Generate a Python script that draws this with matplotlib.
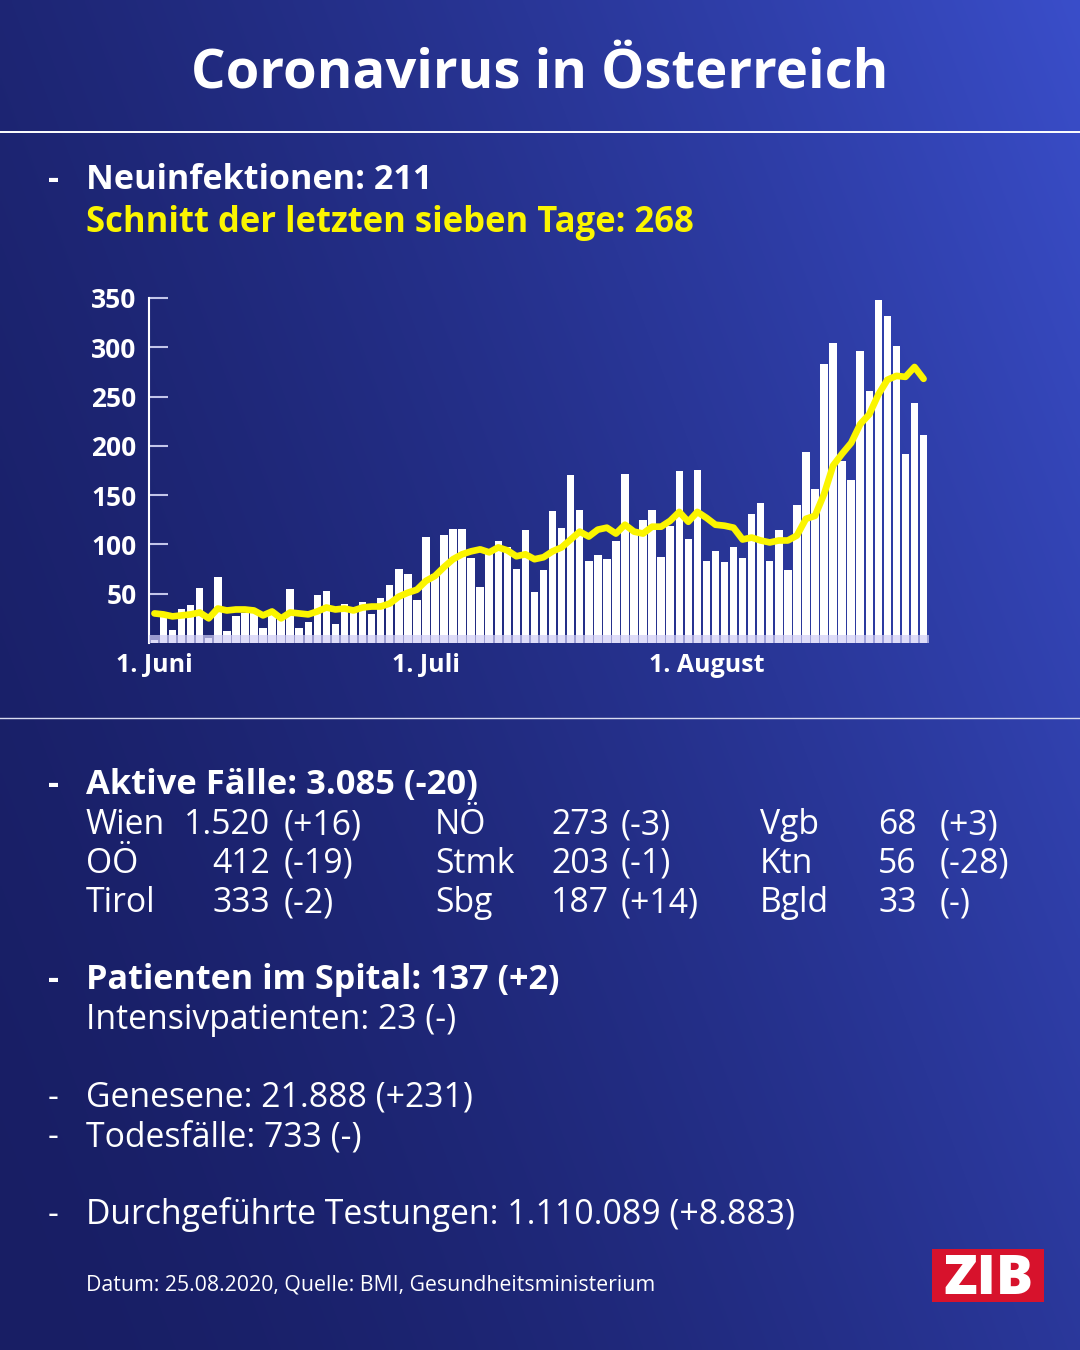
import numpy as np
import matplotlib
matplotlib.use('Agg')
import matplotlib.pyplot as plt
from matplotlib.patches import Rectangle

W, H = 1080, 1350
FONT = 'Open Sans'
plt.rcParams['font.family'] = [FONT, 'DejaVu Sans']

# ---------------- data ----------------
# daily new infections, 1 June .. 25 August 2020
cases = [3, 29, 13, 35, 39, 56, 5, 67, 12, 27,
         30, 31, 15, 30, 27, 55, 15, 21, 49, 53,
         19, 40, 30, 42, 29, 46, 59, 75, 70, 44,
         108, 70, 110, 116, 116, 86, 57, 90, 103, 97,
         75, 115, 52, 74, 134, 117, 170, 135, 83, 89,
         85, 103, 171, 116, 125, 135, 87, 119, 174, 106,
         176, 83, 93, 82, 97, 86, 131, 142, 83, 115,
         74, 140, 194, 156, 283, 304, 185, 165, 296, 256,
         348, 332, 301, 192, 243, 211]
# seven-day average (yellow line)
avg7 = [30, 29, 27, 28, 29, 31, 25, 35, 33, 34,
        34, 33, 28, 32, 25, 31, 30, 29, 32, 36,
        34, 35, 33, 36, 37, 37, 40, 47, 51, 54,
        63, 68, 77, 85, 90, 93, 95, 92, 97, 94,
        88, 90, 85, 87, 93, 97, 105, 113, 108, 115,
        117, 111, 120, 113, 111, 118, 118, 124, 133, 123,
        133, 127, 120, 119, 117, 105, 107, 104, 102, 104,
        104, 109, 126, 129, 151, 180, 192, 203, 222, 232,
        252, 267, 271, 270, 280, 268]
days = list(range(len(cases)))
ytick_vals = [50, 100, 150, 200, 250, 300, 350]
xtick_days = [0, 30, 61]
xtick_labels = ['1. Juni', '1. Juli', '1. August']

title = 'Coronavirus in Österreich'
head1 = 'Neuinfektionen: 211'
head2 = 'Schnitt der letzten sieben Tage: 268'
active = 'Aktive Fälle: 3.085 (-20)'
regions = [['Wien', 'NÖ', 'Vgb'], ['OÖ', 'Stmk', 'Ktn'], ['Tirol', 'Sbg', 'Bgld']]
reg_vals = [['1.520', '273', '68'], ['412', '203', '56'], ['333', '187', '33']]
reg_chg = [['(+16)', '(-3)', '(+3)'], ['(-19)', '(-1)', '(-28)'], ['(-2)', '(+14)', '(-)']]
spital = 'Patienten im Spital: 137 (+2)'
intensiv = 'Intensivpatienten: 23 (-)'
genesene = 'Genesene: 21.888 (+231)'
tode = 'Todesfälle: 733 (-)'
tests = 'Durchgeführte Testungen: 1.110.089 (+8.883)'
footer = 'Datum: 25.08.2020, Quelle: BMI, Gesundheitsministerium'

# ---------------- figure & background ----------------
fig = plt.figure(figsize=(W / 100, H / 100), dpi=100)
bg = fig.add_axes([0, 0, 1, 1])
bg.set_xlim(0, W)
bg.set_ylim(H, 0)
bg.axis('off')

yy, xx = np.mgrid[0:H:3, 0:W:3]
t = 0.68 * (xx / W) + 0.32 * (1 - yy / H)
t = np.clip(t, 0, 1) ** 1.6
c0 = np.array([24, 30, 100]) / 255
c1 = np.array([58, 78, 202]) / 255
img = c0[None, None, :] * (1 - t[..., None]) + c1[None, None, :] * t[..., None]
bg.imshow(img, extent=[0, W, H, 0], aspect='auto', zorder=0, interpolation='bilinear')

bg.plot([0, W], [132, 132], color='white', lw=1.4, zorder=1)
bg.plot([0, W], [718, 718], color='#d8dbf0', lw=1.0, zorder=1)

renderer = fig.canvas.get_renderer()


def fit_text(x, y, s, target_w, size0=20, **kw):
    tx = bg.text(x, y, s, fontsize=size0, va='baseline', **kw)
    w = tx.get_window_extent(renderer).width
    tx.set_fontsize(size0 * target_w / w)
    return tx


WHITE = 'white'
YEL = '#fbf500'

fit_text(540, 87, title, 696, 40, ha='center', color=WHITE, fontweight='bold')
t1 = fit_text(86, 189, head1, 347, 24, color=WHITE, fontweight='bold')
fit_text(86, 232, head2, 608, 24, color=YEL, fontweight='bold')
bsize = t1.get_fontsize()
bg.text(48, 189, '-', fontsize=bsize, color=WHITE, fontweight='bold', va='baseline')

ta = fit_text(86, 794, active, 391, 24, color=WHITE, fontweight='bold')
bg.text(48, 794, '-', fontsize=bsize, color=WHITE, fontweight='bold', va='baseline')
fit_text(86, 989, spital, 473, 24, color=WHITE, fontweight='bold')
bg.text(48, 989, '-', fontsize=bsize, color=WHITE, fontweight='bold', va='baseline')

tt = fit_text(86, 1224, tests, 711, 24, color=WHITE)
rsize = tt.get_fontsize()
for yb, s in [(1029, intensiv), (1107, genesene), (1146, tode)]:
    bg.text(86, yb, s, fontsize=rsize, color=WHITE, va='baseline')
for yb in [1107, 1146, 1224]:
    bg.text(48, yb, '-', fontsize=rsize, color=WHITE, va='baseline')

row_base = [834, 873, 912]
name_x = [86, 435, 760]
val_x = [(270, 'right'), (551, 'left'), (878, 'left')]
chg_x = [284, 621, 940]
for r in range(3):
    for c in range(3):
        bg.text(name_x[c], row_base[r], regions[r][c], fontsize=rsize, color=WHITE, va='baseline')
        vx, ha = val_x[c]
        bg.text(vx, row_base[r], reg_vals[r][c], fontsize=rsize, color=WHITE, va='baseline', ha=ha)
        bg.text(chg_x[c], row_base[r], reg_chg[r][c], fontsize=rsize, color=WHITE, va='baseline')

fit_text(86, 1291, footer, 565, 15, color=WHITE)

# ZIB logo
bg.add_patch(Rectangle((932, 1249), 112, 53, facecolor='#d7122c', edgecolor='none', zorder=2))
fit_text(988, 1294, 'ZIB', 90, 36, ha='center', color=WHITE, fontweight='heavy', zorder=3)

# ---------------- chart ----------------
x0, x1, ytop, ybot = 149, 929, 298, 643
ax = fig.add_axes([x0 / W, (H - ybot) / H, (x1 - x0) / W, (ybot - ytop) / H])
ax.patch.set_alpha(0)
ax.set_xlim(-0.6, 85.6)
ax.set_ylim(0, 350)

ax.bar(days, cases, width=0.83, color='white', zorder=2)
ax.axhspan(0, 8.5, color='#d1cef6', alpha=0.7, lw=0, zorder=3)
ax.plot(days, avg7, color=YEL, lw=4.8, zorder=4, solid_joinstyle='round',
        solid_capstyle='round')

for s in ['top', 'right', 'bottom']:
    ax.spines[s].set_visible(False)
ax.spines['left'].set_color('white')
ax.spines['left'].set_linewidth(1.5)

ax.set_yticks(ytick_vals)
ax.set_yticklabels([str(v) for v in ytick_vals])
ax.tick_params(axis='y', direction='in', length=14, width=1.5, color='#c3c6ea',
               labelcolor='white', labelsize=19, pad=9)
for lab in ax.get_yticklabels():
    lab.set_fontweight('bold')

ax.set_xticks(xtick_days)
ax.set_xticklabels(xtick_labels)
ax.tick_params(axis='x', length=0, labelcolor='white', labelsize=18, pad=7)
for lab in ax.get_xticklabels():
    lab.set_fontweight('bold')

fig.savefig('out.png', dpi=100)
